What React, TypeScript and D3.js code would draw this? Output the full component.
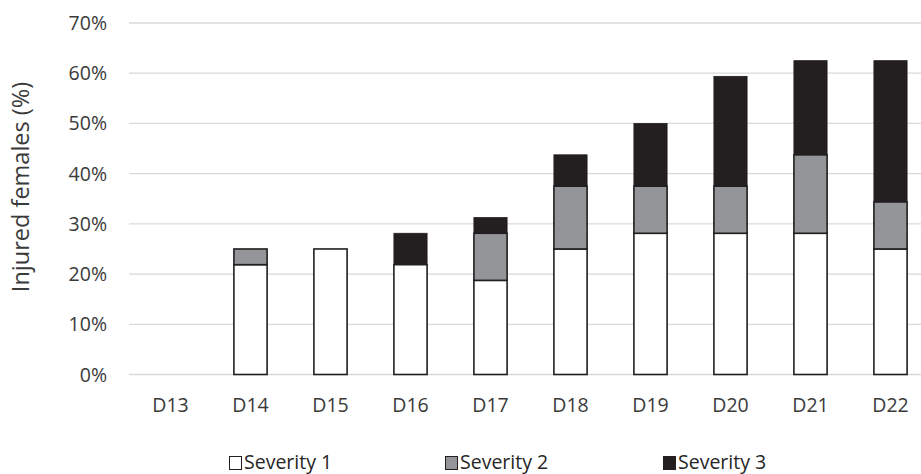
import React from "react";
import * as d3 from "d3";

const categories = ["D13", "D14", "D15", "D16", "D17", "D18", "D19", "D20", "D21", "D22"];
const severity1 = [0, 21.875, 25, 21.875, 18.75, 25, 28.125, 28.125, 28.125, 25];
const severity2 = [0, 3.125, 0, 0, 9.375, 12.5, 9.375, 9.375, 15.625, 9.375];
const severity3 = [0, 0, 0, 6.25, 3.125, 6.25, 12.5, 21.875, 18.75, 28.125];
const yTicks = [0, 10, 20, 30, 40, 50, 60, 70];
const seriesNames = ["Severity 1", "Severity 2", "Severity 3"];
const seriesColors = ["#ffffff", "#939598", "#231f20"];

const W = 921;
const H = 474;
const FONT = "'Open Sans', 'Liberation Sans', sans-serif";

export default function App() {
  const x = d3.scaleBand<string>().domain(categories).range([130.5, 930.5]).paddingInner(0.585).paddingOuter(0.2925);
  const y = d3.scaleLinear().domain([0, 70]).range([374.5, 23]);
  const rows = categories.map((c, i) => ({ cat: c, s1: severity1[i], s2: severity2[i], s3: severity3[i] }));
  const stack = d3.stack<any>().keys(["s1", "s2", "s3"])(rows);
  const bw = x.bandwidth();

  return (
    <svg width={W} height={H} style={{ position: "absolute", left: 0, top: 0, background: "#fff" }}>
      <rect width={W} height={H} fill="#fff" />
      {yTicks.map((t) => (
        <g key={t}>
          <line x1={129} x2={W} y1={y(t)} y2={y(t)} stroke="#d9d9d9" strokeWidth={1.3} />
          <text x={107} y={y(t)} dy="0.36em" textAnchor="end" fontFamily={FONT} fontSize={19.5} fill="#3a3a3a">
            {t}%
          </text>
        </g>
      ))}
      {stack.map((layer, li) => (
        <g key={li}>
          {layer.map((d, i) => {
            const v = d[1] - d[0];
            if (v <= 0) return null;
            const x0 = x(categories[i])!;
            return (
              <rect
                key={i}
                x={x0}
                y={y(d[1])}
                width={bw}
                height={y(d[0]) - y(d[1])}
                fill={seriesColors[li]}
                stroke="#231f20"
                strokeWidth={li === 2 ? 0.8 : 1.6}
              />
            );
          })}
        </g>
      ))}
      {categories.map((c) => (
        <text key={c} x={x(c)! + bw / 2} y={412} textAnchor="middle" fontFamily={FONT} fontSize={19.5} fill="#3a3a3a">
          {c}
        </text>
      ))}
      <text
        transform={`translate(${29},${187}) rotate(-90)`}
        textAnchor="middle"
        fontFamily={FONT}
        fontSize={23.5}
        fill="#3a3a3a"
      >
        Injured females (%)
      </text>
      {seriesNames.map((n, i) => {
        const lx = [229, 445, 663][i];
        return (
          <g key={n}>
            <rect x={lx + 0.5} y={456.5} width={12} height={13} fill={seriesColors[i]} stroke="#231f20" strokeWidth={1} />
            <text x={lx + 15} y={469} fontFamily={FONT} fontSize={19.5} fill="#262626">
              {n}
            </text>
          </g>
        );
      })}
    </svg>
  );
}
